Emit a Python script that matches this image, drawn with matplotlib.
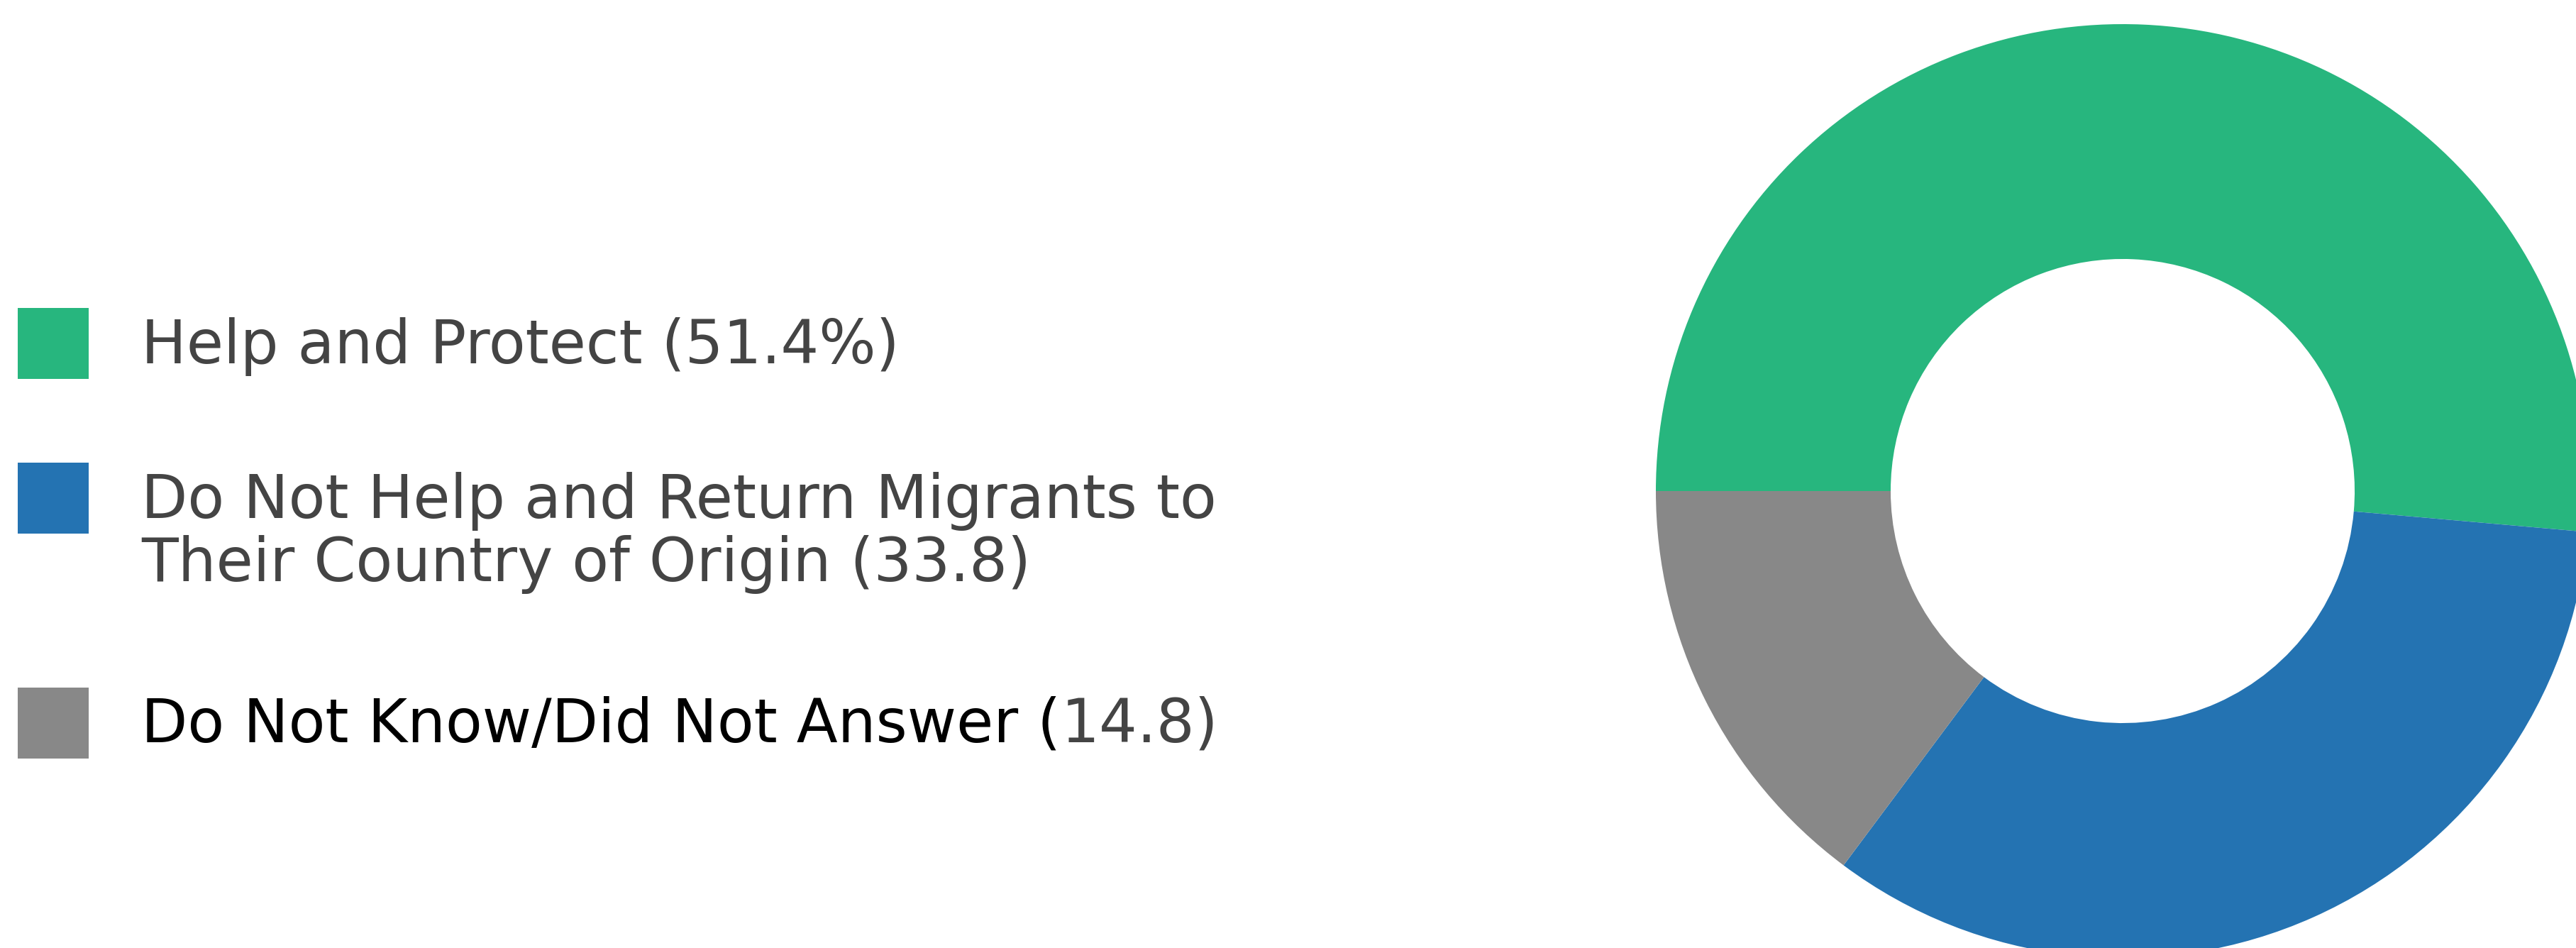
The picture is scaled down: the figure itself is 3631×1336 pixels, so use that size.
import matplotlib
matplotlib.use("Agg")
import matplotlib.pyplot as plt
from matplotlib.patches import Rectangle

categories = ["Help and Protect (51.4%)",
              "Do Not Help and Return Migrants to\nTheir Country of Origin (33.8)",
              "Do Not Know/Did Not Answer (14.8)"]
values = [51.4, 33.8, 14.8]
colors = ["#27B67E", "#2473B2", "#888888"]

W, H = 3631, 1336
DPI = 100
fig = plt.figure(figsize=(W / DPI, H / DPI), dpi=DPI)
fig.patch.set_facecolor("white")

# donut
cx, cy, R = 2992, 692, 658
ax = fig.add_axes([(cx - R) / W, (H - cy - R) / H, 2 * R / W, 2 * R / H])
ax.pie(values, colors=colors, startangle=180, counterclock=False,
       radius=1, wedgeprops=dict(width=0.503, linewidth=0))
ax.set_xlim(-1, 1)
ax.set_ylim(-1, 1)
ax.set_aspect("equal")
ax.axis("off")

# legend
sq_x, sq_w = 25, 100
sq_centers = [484, 702, 1019]
text_x = 199
fs = 61
txt_color = "#444444"
fam = ["DejaVu Sans"]

for i, (lab, col) in enumerate(zip(categories, colors)):
    yc = sq_centers[i]
    fig.patches.append(Rectangle((sq_x / W, (H - yc - sq_w / 2) / H), sq_w / W, sq_w / H,
                                 transform=fig.transFigure, facecolor=col, edgecolor="none"))

fig.text(text_x / W, 1 - 489 / H, categories[0], fontsize=fs, color=txt_color,
         va="center", ha="left", family=fam)
fig.text(text_x / W, 1 - 751 / H, categories[1], fontsize=fs, color=txt_color,
         va="center", ha="left", family=fam, linespacing=1.1)

# third label: black part + gray numbers
part_a = "Do Not Know/Did Not Answer ("
part_b = "14.8)"
ta = fig.text(text_x / W, 1 - 1022 / H, part_a, fontsize=fs, color="black",
              va="center", ha="left", family=fam)
fig.canvas.draw()
bb = ta.get_window_extent(renderer=fig.canvas.get_renderer())
fig.text(bb.x1 / W, 1 - 1022 / H, part_b, fontsize=fs, color=txt_color,
         va="center", ha="left", family=fam)

fig.savefig("out.png", dpi=DPI, facecolor="white")
